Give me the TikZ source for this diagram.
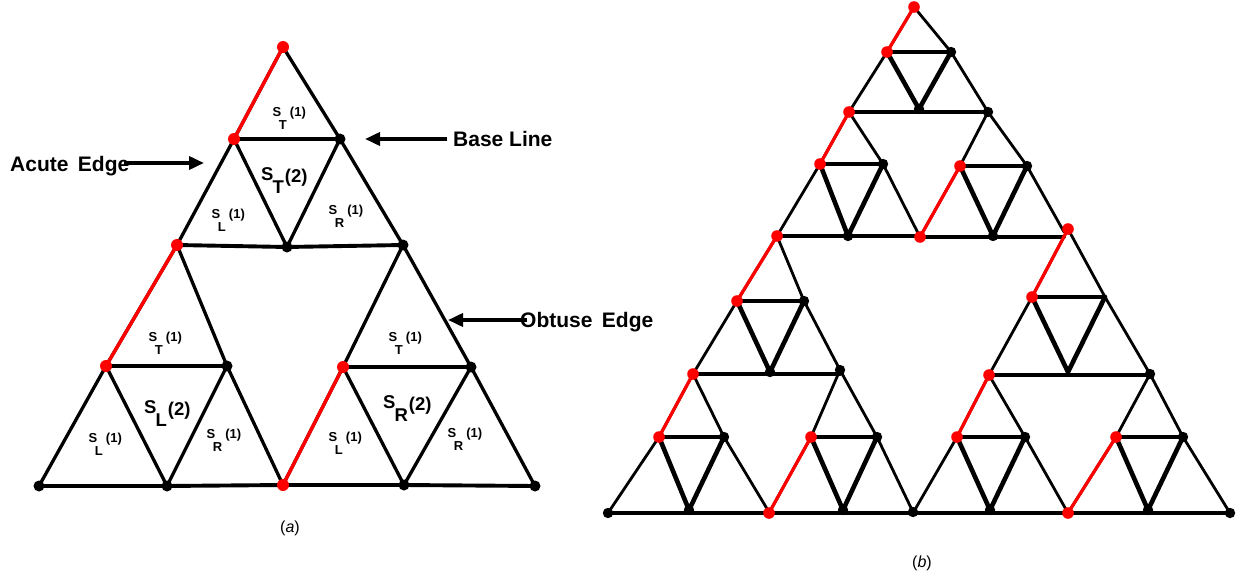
\documentclass[tikz,border=0pt]{standalone}
\usepackage{fontspec}
\setmainfont{Liberation Sans}
\usetikzlibrary{arrows.meta}
\newcommand{\Ss}[2]{S\kern-0.2em\raisebox{-1.0em}{#1}\kern0.25em(#2)}
\newcommand{\Sb}[2]{S\kern-0.05em\raisebox{-0.72em}{#1}\kern0.05em\raisebox{-0.1em}{(#2)}}
\newcommand{\tri}[7]{%
  \coordinate (#1P) at #2;
  \coordinate (#1Q) at #3;
  \coordinate (#1R) at #4;
  \coordinate (#1lm) at #5;
  \coordinate (#1rm) at #6;
  \coordinate (#1bm) at #7;
  \draw[bthin] (#1P) -- (#1lm) -- (#1Q);
  \draw[bthin] (#1P) -- (#1rm) -- (#1R);
  \draw[bhor] (#1Q) -- (#1Q -| #1R);
  \draw[bthick] (#1lm) -- (#1bm) -- (#1rm);
  \draw[bthickh] (#1lm) -- (#1rm);
}
\begin{document}
\begin{tikzpicture}[x=1pt,y=-1pt,
  aslant/.style={line width=3.3pt,black,line cap=round,line join=round},
  ahor/.style={line width=3.9pt,black,line cap=round,line join=round},
  ared/.style={line width=3.4pt,red,line cap=round},
  bthin/.style={line width=2.8pt,black,line cap=round,line join=round},
  bhor/.style={line width=3.7pt,black,line cap=round},
  bthick/.style={line width=4.6pt,black,line cap=round,line join=round},
  bthickh/.style={line width=4.2pt,black,line cap=round},
  bred/.style={line width=3.2pt,red,line cap=round},
  arr/.style={line width=3.6pt,black,-{Triangle[length=15pt,width=13pt]}},
  big/.style={font=\fontsize{21}{25}\selectfont\bfseries,inner sep=0pt},
  slab/.style={font=\fontsize{13}{15}\selectfont\bfseries,inner sep=0pt,anchor=base west},
  blab/.style={font=\fontsize{18.5}{21}\selectfont\bfseries,inner sep=0pt,anchor=base west},
  captxt/.style={font=\fontsize{16}{18}\selectfont,inner sep=0pt}
]
\useasboundingbox (0,0) rectangle (1243,578);

% ---------------- (a) ----------------
\coordinate (A0) at (283,47);
\coordinate (tl) at (234,139);
\coordinate (tr) at (340,139);
\coordinate (ml) at (177,245);
\coordinate (mc) at (287,247);
\coordinate (mr) at (403,245);
\coordinate (ll) at (106,366);
\coordinate (lr) at (227,366);
\coordinate (rl) at (343,367);
\coordinate (rr) at (471,367);
\coordinate (b0) at (39,486);
\coordinate (b1) at (167,486);
\coordinate (b2) at (283,485);
\coordinate (b3) at (404,485);
\coordinate (b4) at (535,486);

\draw[aslant] (A0) -- (tl) -- (ml) -- (ll) -- (b0);
\draw[aslant] (A0) -- (tr) -- (mr) -- (rr) -- (b4);
\draw[aslant] (tl) -- (mc) -- (tr);
\draw[aslant] (ml) -- (lr) -- (b2) -- (rl) -- (mr);
\draw[aslant] (ll) -- (b1) -- (lr);
\draw[aslant] (rl) -- (b3) -- (rr);
\draw[ahor] (tl) -- (tr);
\draw[ahor] (ml) -- (mc) -- (mr);
\draw[ahor] (ll) -- (lr);
\draw[ahor] (rl) -- (rr);
\draw[ahor] (b0) -- (b1) -- (b2) -- (b3) -- (b4);
\draw[ared] (A0) -- (tl);
\draw[ared] (ml) -- (ll);
\draw[ared] (b2) -- (rl);
\foreach \p in {A0,tl,ml,ll,rl,b2} \fill[red] (\p) circle[radius=6pt];
\foreach \p in {tr,mc,mr,lr,rr,b0,b1,b3,b4} \fill[black] (\p) circle[radius=5.5pt];

% labels
\node[slab] (l1) at (272.5,116.6) {\Ss{T}{1}};
\node[slab] (l2) at (211.5,218.6) {\Ss{L}{1}};
\node[slab] (l3) at (328.5,214.6) {\Ss{R}{1}};
\node[blab] (l4) at (261,180.6) {\Sb{T}{2}};
\node[slab] (l5) at (148.5,341.6) {\Ss{T}{1}};
\node[blab] (l6) at (144,413.6) {\Sb{L}{2}};
\node[slab] (l7) at (88.5,442.6) {\Ss{L}{1}};
\node[slab] (l8) at (206.5,438.6) {\Ss{R}{1}};
\node[slab] (l9) at (388.5,341.6) {\Ss{T}{1}};
\node[blab] (l10) at (383,408.6) {\Sb{R}{2}};
\node[slab] (l11) at (328.5,441.6) {\Ss{L}{1}};
\node[slab] (l12) at (447.5,437.6) {\Ss{R}{1}};

% annotations
\node[big,anchor=base west] (acute) at (10,171) {Acute\hspace{0.45em}Edge};
\node[big,anchor=base west] (baseln) at (453,146.5) {Base Line};
\node[big,anchor=base west] (obtuse) at (520,327.5) {Obtuse\hspace{0.45em}Edge};
\coordinate (acT) at (124,163);
\coordinate (acH) at (204,163);
\coordinate (blT) at (447,139);
\coordinate (blH) at (365,139);
\coordinate (obT) at (527,320);
\coordinate (obH) at (448,320);
\draw[arr] (acT) -- (acH);
\draw[arr] (blT) -- (blH);
\draw[arr] (obT) -- (obH);

\node[captxt] (capa) at (290,528) {(\textit{a})};

% ---------------- (b) ----------------
\tri{TT}{(914,7)}{(849,112)}{(988,112)}{(887,52)}{(951,52)}{(919,109)}
\tri{TL}{(849,112)}{(777,236)}{(920,237)}{(820,164)}{(883,164)}{(848,236)}
\tri{TR}{(988,112)}{(920,237)}{(1064,232)}{(960,166)}{(1027,166)}{(993,236)}
\tri{LT}{(777,236)}{(693,374)}{(840,370)}{(737,301)}{(804,301)}{(770,372)}
\tri{LL}{(693,374)}{(608,513)}{(769,512)}{(659,437)}{(724,437)}{(689,510)}
\tri{LR}{(840,370)}{(769,513)}{(913,512)}{(811,437)}{(877,437)}{(843,510)}
\tri{RT}{(1068,229)}{(989,375)}{(1150,374)}{(1032,297)}{(1105,297)}{(1068,372)}
\tri{RL}{(989,375)}{(913,513)}{(1068,513)}{(957,437)}{(1025,437)}{(990,510)}
\tri{RR}{(1150,374)}{(1068,513)}{(1230,513)}{(1116,437)}{(1183,437)}{(1148,510)}

\draw[bred] (TTP) -- (TTlm);
\draw[bred] (TLP) -- (TLlm);
\draw[bred] (TRlm) -- (TRQ);
\draw[bred] (LTP) -- (LTlm);
\draw[bred] (LLP) -- (LLlm);
\draw[bred] (LRlm) -- (LRQ);
\draw[bred] (RTP) -- (RTlm);
\draw[bred] (RLP) -- (RLlm);
\draw[bred] (RRlm) -- (RRQ);

\foreach \p in {TTrm,TTbm,TTR,TLrm,TLbm,TRrm,TRbm,LTrm,LTbm,LTR,LLrm,LLbm,LLQ,LRrm,LRbm,LRR,RTR,RLrm,RLbm,RRrm,RRbm,RRR}
  \fill[black] (\p) circle[radius=5.2pt];
\foreach \p in {TTP,TTlm,TLP,TLlm,TRlm,TRQ,LTP,LTlm,LLP,LLlm,LRlm,LRQ,RTP,RTlm,RLP,RLlm,RRlm,RRQ}
  \fill[red] (\p) circle[radius=5.8pt];

\node[captxt] (capb) at (922,563) {(\textit{b})};
\end{tikzpicture}
\end{document}
